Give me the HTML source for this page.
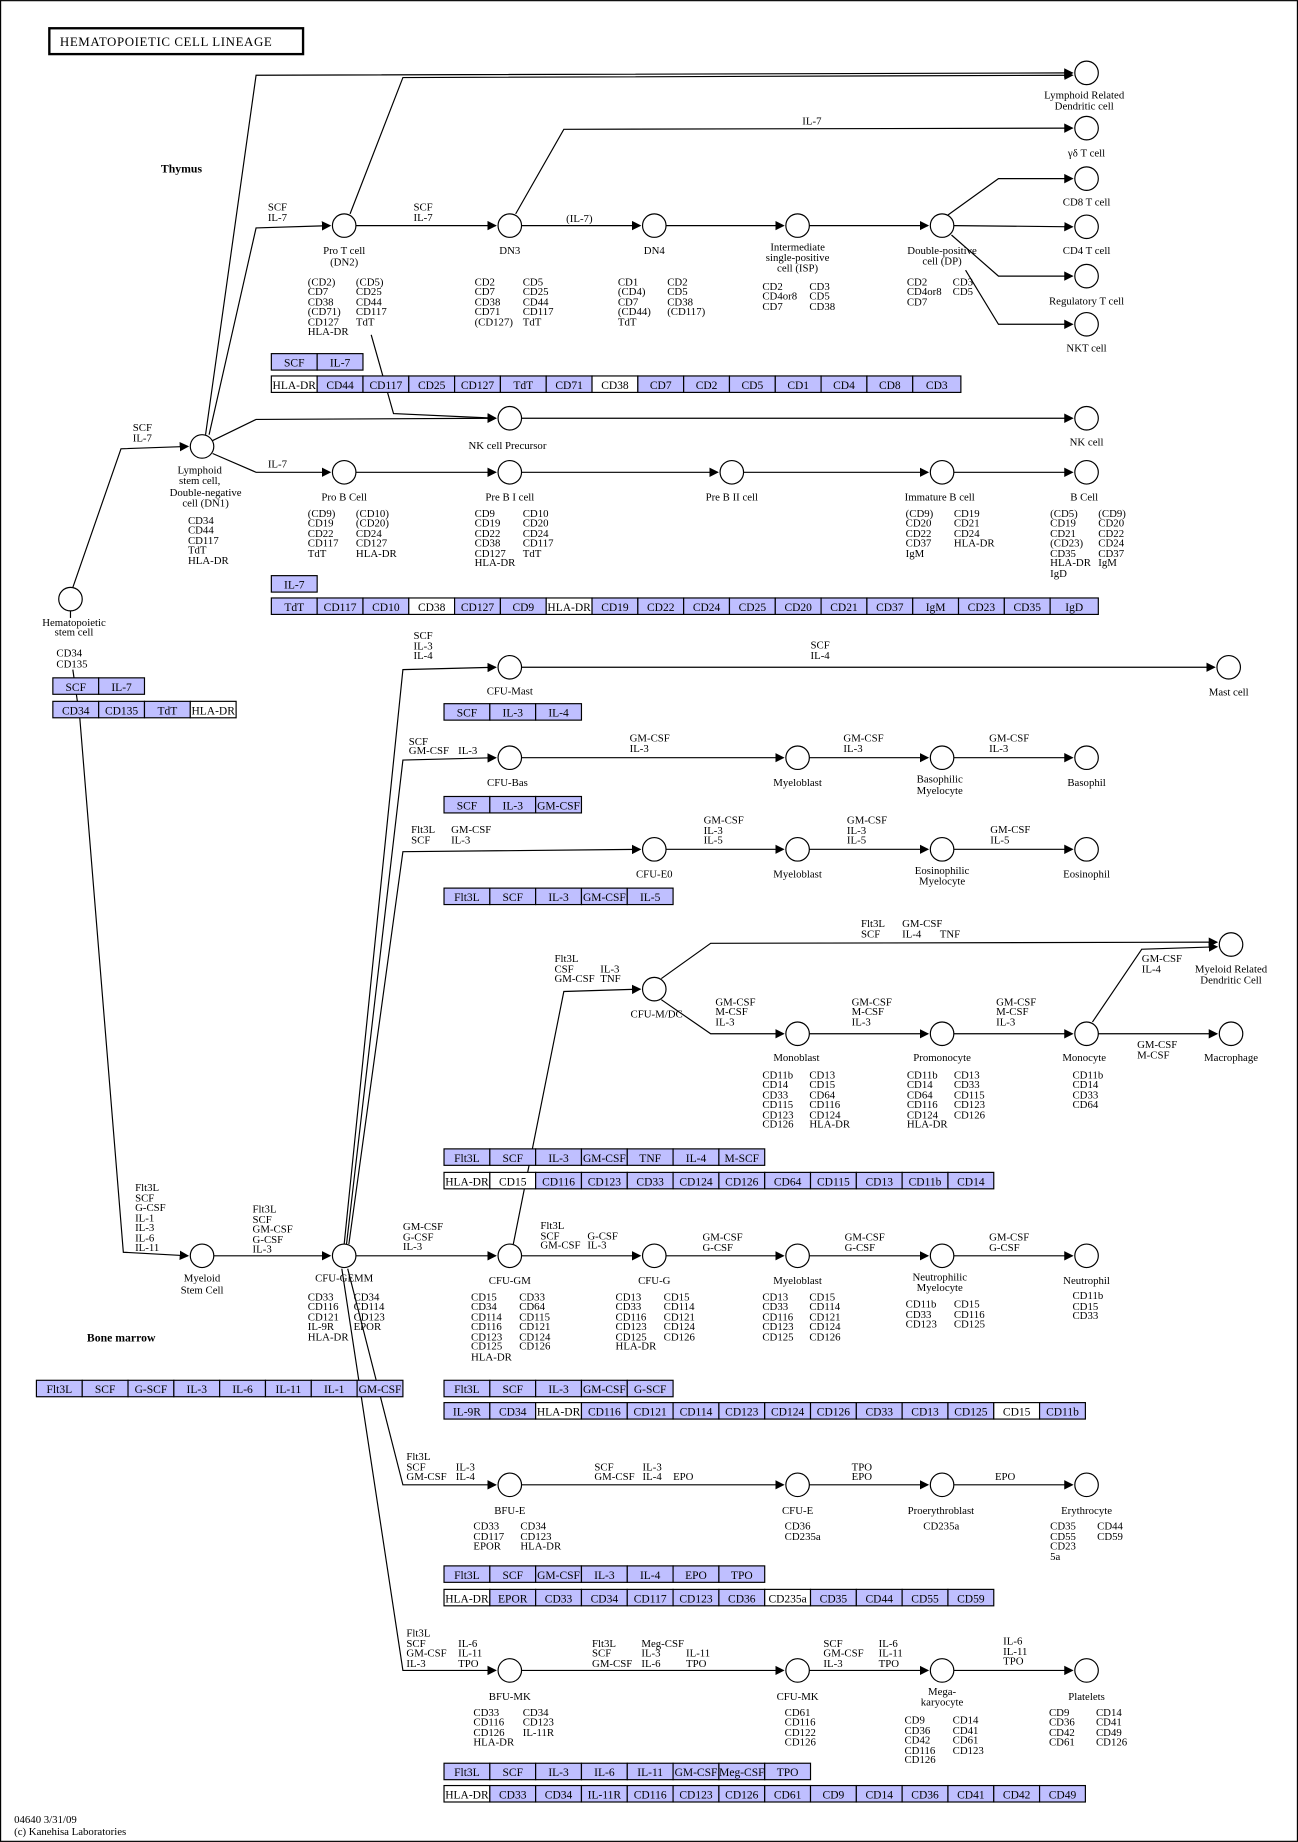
<!DOCTYPE html>
<html><head><meta charset="utf-8"><style>
html,body{margin:0;padding:0;background:#fff}
svg{display:block}
text{font-family:"Liberation Serif",serif;font-size:9.2px;fill:#000}
.c{text-anchor:middle}
.b{font-weight:bold;font-size:10px}
circle{fill:#fff;stroke:#000;stroke-width:1}
path{fill:none;stroke:#000;stroke-width:1}
rect.u{fill:#bfbfff;stroke:#000;stroke-width:1}
rect.w{fill:#fff;stroke:#000;stroke-width:1}
.t text{text-anchor:middle;font-size:9.8px}
</style></head><body>
<svg width="1298" height="1842" viewBox="0 0 1105 1568" xmlns="http://www.w3.org/2000/svg">
<defs><marker id="a" markerWidth="8" markerHeight="8" refX="7" refY="4" orient="auto" markerUnits="userSpaceOnUse"><path d="M0,0 L8,4 L0,8 z" style="fill:#000;stroke:none"/></marker></defs>
<rect x="0.5" y="0.5" width="1104" height="1567" fill="none" stroke="#000"/>
<rect x="42" y="24" width="216" height="22" fill="#fff" stroke="#000" stroke-width="2"/>
<text x="51" y="39" style="font-size:11px;letter-spacing:0.5px">HEMATOPOIETIC CELL LINEAGE</text>
<text x="137" y="147" class="b">Thymus</text>
<text x="74" y="1142" class="b">Bone marrow</text>
<text x="12" y="1552">04640 3/31/09</text>
<text x="12" y="1562">(c) Kanehisa Laboratories</text>

<!-- EDGES -->
<g marker-end="url(#a)">
<path d="M62,500 L103,382 L160,380"/>
<path d="M62,570 L68,612 L105,1066 L160,1069"/>
<path d="M182,1069 L281,1069"/>
<path d="M175,370 L218,64 L913,62"/>
<path d="M178,370 L218,194 L281,192"/>
<path d="M298,182 L343,66 L913,64"/>
<path d="M303,192 L422,192"/>
<path d="M439,182 L480,110 L913,109"/>
<path d="M444,192 L545,192"/>
<path d="M567,192 L667,192"/>
<path d="M689,192 L790,192"/>
<path d="M807,183 L850,152 L913,152"/>
<path d="M812,192 L913,193"/>
<path d="M810,200 L850,235 L913,235"/>
<path d="M822,230 L850,276 L913,276"/>
<path d="M181,375 L218,357 L422,356"/>
<path d="M316,285 L335,352 L422,356"/>
<path d="M444,356 L913,356"/>
<path d="M181,386 L218,402 L281,402"/>
<path d="M303,402 L422,402"/>
<path d="M444,402 L611,402"/>
<path d="M633,402 L790,402"/>
<path d="M812,402 L913,402"/>
<path d="M293,1059 L343,570 L422,568"/>
<path d="M295,1059 L343,647 L422,645"/>
<path d="M297,1059 L343,725 L545,723"/>
<path d="M444,568 L1034,568"/>
<path d="M444,645 L667,645"/>
<path d="M689,645 L790,645"/>
<path d="M812,645 L913,645"/>
<path d="M567,723 L667,723"/>
<path d="M689,723 L790,723"/>
<path d="M812,723 L913,723"/>
<path d="M303,1069 L422,1069"/>
<path d="M437,1059 L480,844 L545,842"/>
<path d="M563,833 L605,803 L1036,802"/>
<path d="M563,851 L605,880 L667,880"/>
<path d="M689,880 L790,880"/>
<path d="M812,880 L913,880"/>
<path d="M930,870 L972,808 L1036,806"/>
<path d="M935,880 L1036,880"/>
<path d="M444,1069 L545,1069"/>
<path d="M567,1069 L667,1069"/>
<path d="M689,1069 L790,1069"/>
<path d="M812,1069 L913,1069"/>
<path d="M296,1080 L343,1264 L422,1264"/>
<path d="M291,1080 L343,1422 L422,1422"/>
<path d="M444,1264 L667,1264"/>
<path d="M689,1264 L790,1264"/>
<path d="M812,1264 L913,1264"/>
<path d="M444,1422 L667,1422"/>
<path d="M689,1422 L790,1422"/>
<path d="M812,1422 L913,1422"/>
</g>
<path d="M60,520 L60,526"/>

<!-- NODES -->
<g>
<circle cx="60" cy="510" r="10"/><circle cx="172" cy="380" r="10"/>
<circle cx="293" cy="192" r="10"/><circle cx="434" cy="192" r="10"/><circle cx="557" cy="192" r="10"/><circle cx="679" cy="192" r="10"/><circle cx="802" cy="192" r="10"/>
<circle cx="925" cy="62" r="10"/><circle cx="925" cy="109" r="10"/><circle cx="925" cy="152" r="10"/><circle cx="925" cy="193" r="10"/><circle cx="925" cy="235" r="10"/><circle cx="925" cy="276" r="10"/>
<circle cx="434" cy="356" r="10"/><circle cx="925" cy="356" r="10"/>
<circle cx="293" cy="402" r="10"/><circle cx="434" cy="402" r="10"/><circle cx="623" cy="402" r="10"/><circle cx="802" cy="402" r="10"/><circle cx="925" cy="402" r="10"/>
<circle cx="434" cy="568" r="10"/><circle cx="1046" cy="568" r="10"/>
<circle cx="434" cy="645" r="10"/><circle cx="679" cy="645" r="10"/><circle cx="802" cy="645" r="10"/><circle cx="925" cy="645" r="10"/>
<circle cx="557" cy="723" r="10"/><circle cx="679" cy="723" r="10"/><circle cx="802" cy="723" r="10"/><circle cx="925" cy="723" r="10"/>
<circle cx="557" cy="842" r="10"/><circle cx="1048" cy="804" r="10"/><circle cx="679" cy="880" r="10"/><circle cx="802" cy="880" r="10"/><circle cx="925" cy="880" r="10"/><circle cx="1048" cy="880" r="10"/>
<circle cx="172" cy="1069" r="10"/><circle cx="293" cy="1069" r="10"/><circle cx="434" cy="1069" r="10"/><circle cx="557" cy="1069" r="10"/><circle cx="679" cy="1069" r="10"/><circle cx="802" cy="1069" r="10"/><circle cx="925" cy="1069" r="10"/>
<circle cx="434" cy="1264" r="10"/><circle cx="679" cy="1264" r="10"/><circle cx="802" cy="1264" r="10"/><circle cx="925" cy="1264" r="10"/>
<circle cx="434" cy="1422" r="10"/><circle cx="679" cy="1422" r="10"/><circle cx="802" cy="1422" r="10"/><circle cx="925" cy="1422" r="10"/>
</g>

<!-- NODE LABELS -->
<g class="c">
<text class="c" x="63" y="533">Hematopoietic</text><text class="c" x="63" y="541">stem cell</text>
<text class="c" x="170" y="403">Lymphoid</text><text class="c" x="170" y="412">stem cell,</text><text class="c" x="175" y="422">Double-negative</text><text class="c" x="175" y="431">cell (DN1)</text>
<text class="c" x="293" y="216">Pro T cell</text><text class="c" x="293" y="226">(DN2)</text>
<text class="c" x="434" y="216">DN3</text><text class="c" x="557" y="216">DN4</text>
<text class="c" x="679" y="213">Intermediate</text><text class="c" x="679" y="222">single-positive</text><text class="c" x="679" y="231">cell (ISP)</text>
<text class="c" x="802" y="216">Double-positive</text><text class="c" x="802" y="225">cell (DP)</text>
<text class="c" x="923" y="84">Lymphoid Related</text><text class="c" x="923" y="93">Dendritic cell</text>
<text class="c" x="925" y="133">γδ T cell</text><text class="c" x="925" y="175">CD8 T cell</text><text class="c" x="925" y="216">CD4 T cell</text>
<text class="c" x="925" y="259">Regulatory T cell</text><text class="c" x="925" y="299">NKT cell</text>
<text class="c" x="432" y="382">NK cell Precursor</text><text class="c" x="925" y="379">NK cell</text>
<text class="c" x="293" y="426">Pro B Cell</text><text class="c" x="434" y="426">Pre B I cell</text><text class="c" x="623" y="426">Pre B II cell</text><text class="c" x="800" y="426">Immature B cell</text><text class="c" x="923" y="426">B Cell</text>
<text class="c" x="434" y="591">CFU-Mast</text><text class="c" x="1046" y="592">Mast cell</text>
<text class="c" x="432" y="669">CFU-Bas</text><text class="c" x="679" y="669">Myeloblast</text><text class="c" x="800" y="666">Basophilic</text><text class="c" x="800" y="676">Myelocyte</text><text class="c" x="925" y="669">Basophil</text>
<text class="c" x="557" y="747">CFU-E0</text><text class="c" x="679" y="747">Myeloblast</text><text class="c" x="802" y="744">Eosinophilic</text><text class="c" x="802" y="753">Myelocyte</text><text class="c" x="925" y="747">Eosinophil</text>
<text class="c" x="559" y="866">CFU-M/DC</text><text class="c" x="1048" y="828">Myeloid Related</text><text class="c" x="1048" y="837">Dendritic Cell</text>
<text class="c" x="678" y="903">Monoblast</text><text class="c" x="802" y="903">Promonocyte</text><text class="c" x="923" y="903">Monocyte</text><text class="c" x="1048" y="903">Macrophage</text>
<text class="c" x="172" y="1091">Myeloid</text><text class="c" x="172" y="1101">Stem Cell</text>
<text class="c" x="293" y="1091">CFU-GEMM</text><text class="c" x="434" y="1093">CFU-GM</text><text class="c" x="557" y="1093">CFU-G</text><text class="c" x="679" y="1093">Myeloblast</text>
<text class="c" x="800" y="1090">Neutrophilic</text><text class="c" x="800" y="1099">Myelocyte</text><text class="c" x="925" y="1093">Neutrophil</text>
<text class="c" x="434" y="1289">BFU-E</text><text class="c" x="679" y="1289">CFU-E</text><text class="c" x="801" y="1289">Proerythroblast</text><text class="c" x="925" y="1289">Erythrocyte</text>
<text class="c" x="434" y="1447">BFU-MK</text><text class="c" x="679" y="1447">CFU-MK</text><text class="c" x="802" y="1443">Mega-</text><text class="c" x="802" y="1452">karyocyte</text><text class="c" x="925" y="1447">Platelets</text>
</g>

<!-- EDGE LABELS -->
<g>
<text x="113" y="367">SCF</text><text x="113" y="376">IL-7</text>
<text x="228" y="179">SCF</text><text x="228" y="188">IL-7</text>
<text x="352" y="179">SCF</text><text x="352" y="188">IL-7</text>
<text x="482" y="189">(IL-7)</text>
<text x="683" y="106">IL-7</text>
<text x="228" y="398">IL-7</text>
<text x="115" y="1014">Flt3L</text><text x="115" y="1023">SCF</text><text x="115" y="1031">G-CSF</text><text x="115" y="1040">IL-1</text><text x="115" y="1048">IL-3</text><text x="115" y="1057">IL-6</text><text x="115" y="1065">IL-11</text>
<text x="215" y="1032">Flt3L</text><text x="215" y="1041">SCF</text><text x="215" y="1049">GM-CSF</text><text x="215" y="1058">G-CSF</text><text x="215" y="1066">IL-3</text>
<text x="343" y="1047">GM-CSF</text><text x="343" y="1056">G-CSF</text><text x="343" y="1064">IL-3</text>
<text x="352" y="544">SCF</text><text x="352" y="553">IL-3</text><text x="352" y="561">IL-4</text>
<text x="690" y="552">SCF</text><text x="690" y="561">IL-4</text>
<text x="348" y="634">SCF</text><text x="348" y="642">GM-CSF</text><text x="390" y="642">IL-3</text>
<text x="536" y="631">GM-CSF</text><text x="536" y="640">IL-3</text>
<text x="718" y="631">GM-CSF</text><text x="718" y="640">IL-3</text>
<text x="842" y="631">GM-CSF</text><text x="842" y="640">IL-3</text>
<text x="350" y="709">Flt3L</text><text x="350" y="718">SCF</text><text x="384" y="709">GM-CSF</text><text x="384" y="718">IL-3</text>
<text x="599" y="701">GM-CSF</text><text x="599" y="710">IL-3</text><text x="599" y="718">IL-5</text>
<text x="721" y="701">GM-CSF</text><text x="721" y="710">IL-3</text><text x="721" y="718">IL-5</text>
<text x="843" y="709">GM-CSF</text><text x="843" y="718">IL-5</text>
<text x="472" y="819">Flt3L</text><text x="472" y="828">CSF</text><text x="472" y="836">GM-CSF</text><text x="511" y="828">IL-3</text><text x="511" y="836">TNF</text>
<text x="733" y="789">Flt3L</text><text x="733" y="798">SCF</text><text x="768" y="789">GM-CSF</text><text x="768" y="798">IL-4</text><text x="800" y="798">TNF</text>
<text x="609" y="856">GM-CSF</text><text x="609" y="864">M-CSF</text><text x="609" y="873">IL-3</text>
<text x="725" y="856">GM-CSF</text><text x="725" y="864">M-CSF</text><text x="725" y="873">IL-3</text>
<text x="848" y="856">GM-CSF</text><text x="848" y="864">M-CSF</text><text x="848" y="873">IL-3</text>
<text x="972" y="819">GM-CSF</text><text x="972" y="828">IL-4</text>
<text x="968" y="892">GM-CSF</text><text x="968" y="901">M-CSF</text>
<text x="460" y="1046">Flt3L</text><text x="460" y="1055">SCF</text><text x="460" y="1063">GM-CSF</text><text x="500" y="1055">G-CSF</text><text x="500" y="1063">IL-3</text>
<text x="598" y="1056">GM-CSF</text><text x="598" y="1065">G-CSF</text>
<text x="719" y="1056">GM-CSF</text><text x="719" y="1065">G-CSF</text>
<text x="842" y="1056">GM-CSF</text><text x="842" y="1065">G-CSF</text>
<text x="346" y="1243">Flt3L</text><text x="346" y="1252">SCF</text><text x="346" y="1260">GM-CSF</text><text x="388" y="1252">IL-3</text><text x="388" y="1260">IL-4</text>
<text x="506" y="1252">SCF</text><text x="506" y="1260">GM-CSF</text><text x="547" y="1252">IL-3</text><text x="547" y="1260">IL-4</text><text x="573" y="1260">EPO</text>
<text x="725" y="1252">TPO</text><text x="725" y="1260">EPO</text>
<text x="847" y="1260">EPO</text>
<text x="346" y="1393">Flt3L</text><text x="346" y="1402">SCF</text><text x="346" y="1410">GM-CSF</text><text x="346" y="1419">IL-3</text>
<text x="390" y="1402">IL-6</text><text x="390" y="1410">IL-11</text><text x="390" y="1419">TPO</text>
<text x="504" y="1402">Flt3L</text><text x="504" y="1410">SCF</text><text x="504" y="1419">GM-CSF</text>
<text x="546" y="1402">Meg-CSF</text><text x="546" y="1410">IL-3</text><text x="546" y="1419">IL-6</text><text x="584" y="1410">IL-11</text><text x="584" y="1419">TPO</text>
<text x="701" y="1402">SCF</text><text x="701" y="1410">GM-CSF</text><text x="701" y="1419">IL-3</text>
<text x="748" y="1402">IL-6</text><text x="748" y="1410">IL-11</text><text x="748" y="1419">TPO</text>
<text x="854" y="1400">IL-6</text><text x="854" y="1409">IL-11</text><text x="854" y="1417">TPO</text>
</g>

<!-- MARKERS -->
<g>
<text x="48" y="559">CD34</text><text x="48" y="568">CD135</text>
<text x="160" y="446">CD34</text><text x="160" y="454">CD44</text><text x="160" y="463">CD117</text><text x="160" y="471">TdT</text><text x="160" y="480">HLA-DR</text>
<text x="262" y="243">(CD2)</text><text x="262" y="251">CD7</text><text x="262" y="260">CD38</text><text x="262" y="268">(CD71)</text><text x="262" y="277">CD127</text><text x="262" y="285">HLA-DR</text>
<text x="303" y="243">(CD5)</text><text x="303" y="251">CD25</text><text x="303" y="260">CD44</text><text x="303" y="268">CD117</text><text x="303" y="277">TdT</text>
<text x="404" y="243">CD2</text><text x="404" y="251">CD7</text><text x="404" y="260">CD38</text><text x="404" y="268">CD71</text><text x="404" y="277">(CD127)</text>
<text x="445" y="243">CD5</text><text x="445" y="251">CD25</text><text x="445" y="260">CD44</text><text x="445" y="268">CD117</text><text x="445" y="277">TdT</text>
<text x="526" y="243">CD1</text><text x="526" y="251">(CD4)</text><text x="526" y="260">CD7</text><text x="526" y="268">(CD44)</text><text x="526" y="277">TdT</text>
<text x="568" y="243">CD2</text><text x="568" y="251">CD5</text><text x="568" y="260">CD38</text><text x="568" y="268">(CD117)</text>
<text x="649" y="247">CD2</text><text x="649" y="255">CD4or8</text><text x="649" y="264">CD7</text>
<text x="689" y="247">CD3</text><text x="689" y="255">CD5</text><text x="689" y="264">CD38</text>
<text x="772" y="243">CD2</text><text x="772" y="251">CD4or8</text><text x="772" y="260">CD7</text>
<text x="811" y="243">CD3</text><text x="811" y="251">CD5</text>
<text x="262" y="440">(CD9)</text><text x="262" y="448">CD19</text><text x="262" y="457">CD22</text><text x="262" y="465">CD117</text><text x="262" y="474">TdT</text>
<text x="303" y="440">(CD10)</text><text x="303" y="448">(CD20)</text><text x="303" y="457">CD24</text><text x="303" y="465">CD127</text><text x="303" y="474">HLA-DR</text>
<text x="404" y="440">CD9</text><text x="404" y="448">CD19</text><text x="404" y="457">CD22</text><text x="404" y="465">CD38</text><text x="404" y="474">CD127</text><text x="404" y="482">HLA-DR</text>
<text x="445" y="440">CD10</text><text x="445" y="448">CD20</text><text x="445" y="457">CD24</text><text x="445" y="465">CD117</text><text x="445" y="474">TdT</text>
<text x="771" y="440">(CD9)</text><text x="771" y="448">CD20</text><text x="771" y="457">CD22</text><text x="771" y="465">CD37</text><text x="771" y="474">IgM</text>
<text x="812" y="440">CD19</text><text x="812" y="448">CD21</text><text x="812" y="457">CD24</text><text x="812" y="465">HLA-DR</text>
<text x="894" y="440">(CD5)</text><text x="894" y="448">CD19</text><text x="894" y="457">CD21</text><text x="894" y="465">(CD23)</text><text x="894" y="474">CD35</text><text x="894" y="482">HLA-DR</text><text x="894" y="491">IgD</text>
<text x="935" y="440">(CD9)</text><text x="935" y="448">CD20</text><text x="935" y="457">CD22</text><text x="935" y="465">CD24</text><text x="935" y="474">CD37</text><text x="935" y="482">IgM</text>
<text x="649" y="918">CD11b</text><text x="649" y="926">CD14</text><text x="649" y="935">CD33</text><text x="649" y="943">CD115</text><text x="649" y="952">CD123</text><text x="649" y="960">CD126</text>
<text x="689" y="918">CD13</text><text x="689" y="926">CD15</text><text x="689" y="935">CD64</text><text x="689" y="943">CD116</text><text x="689" y="952">CD124</text><text x="689" y="960">HLA-DR</text>
<text x="772" y="918">CD11b</text><text x="772" y="926">CD14</text><text x="772" y="935">CD64</text><text x="772" y="943">CD116</text><text x="772" y="952">CD124</text><text x="772" y="960">HLA-DR</text>
<text x="812" y="918">CD13</text><text x="812" y="926">CD33</text><text x="812" y="935">CD115</text><text x="812" y="943">CD123</text><text x="812" y="952">CD126</text>
<text x="913" y="918">CD11b</text><text x="913" y="926">CD14</text><text x="913" y="935">CD33</text><text x="913" y="943">CD64</text>
<text x="262" y="1107">CD33</text><text x="262" y="1115">CD116</text><text x="262" y="1124">CD121</text><text x="262" y="1132">IL-9R</text><text x="262" y="1141">HLA-DR</text>
<text x="301" y="1107">CD34</text><text x="301" y="1115">CD114</text><text x="301" y="1124">CD123</text><text x="301" y="1132">EPOR</text>
<text x="401" y="1107">CD15</text><text x="401" y="1115">CD34</text><text x="401" y="1124">CD114</text><text x="401" y="1132">CD116</text><text x="401" y="1141">CD123</text><text x="401" y="1149">CD125</text><text x="401" y="1158">HLA-DR</text>
<text x="442" y="1107">CD33</text><text x="442" y="1115">CD64</text><text x="442" y="1124">CD115</text><text x="442" y="1132">CD121</text><text x="442" y="1141">CD124</text><text x="442" y="1149">CD126</text>
<text x="524" y="1107">CD13</text><text x="524" y="1115">CD33</text><text x="524" y="1124">CD116</text><text x="524" y="1132">CD123</text><text x="524" y="1141">CD125</text><text x="524" y="1149">HLA-DR</text>
<text x="565" y="1107">CD15</text><text x="565" y="1115">CD114</text><text x="565" y="1124">CD121</text><text x="565" y="1132">CD124</text><text x="565" y="1141">CD126</text>
<text x="649" y="1107">CD13</text><text x="649" y="1115">CD33</text><text x="649" y="1124">CD116</text><text x="649" y="1132">CD123</text><text x="649" y="1141">CD125</text>
<text x="689" y="1107">CD15</text><text x="689" y="1115">CD114</text><text x="689" y="1124">CD121</text><text x="689" y="1132">CD124</text><text x="689" y="1141">CD126</text>
<text x="771" y="1113">CD11b</text><text x="771" y="1122">CD33</text><text x="771" y="1130">CD123</text>
<text x="812" y="1113">CD15</text><text x="812" y="1122">CD116</text><text x="812" y="1130">CD125</text>
<text x="913" y="1106">CD11b</text><text x="913" y="1115">CD15</text><text x="913" y="1123">CD33</text>
<text x="403" y="1302">CD33</text><text x="403" y="1311">CD117</text><text x="403" y="1319">EPOR</text>
<text x="443" y="1302">CD34</text><text x="443" y="1311">CD123</text><text x="443" y="1319">HLA-DR</text>
<text x="668" y="1302">CD36</text><text x="668" y="1311">CD235a</text>
<text x="786" y="1302">CD235a</text>
<text x="894" y="1302">CD35</text><text x="894" y="1311">CD55</text><text x="894" y="1319">CD23</text><text x="894" y="1328">5a</text>
<text x="934" y="1302">CD44</text><text x="934" y="1311">CD59</text>
<text x="403" y="1461">CD33</text><text x="403" y="1469">CD116</text><text x="403" y="1478">CD126</text><text x="403" y="1486">HLA-DR</text>
<text x="445" y="1461">CD34</text><text x="445" y="1469">CD123</text><text x="445" y="1478">IL-11R</text>
<text x="668" y="1461">CD61</text><text x="668" y="1469">CD116</text><text x="668" y="1478">CD122</text><text x="668" y="1486">CD126</text>
<text x="770" y="1467">CD9</text><text x="770" y="1476">CD36</text><text x="770" y="1484">CD42</text><text x="770" y="1493">CD116</text><text x="770" y="1501">CD126</text>
<text x="811" y="1467">CD14</text><text x="811" y="1476">CD41</text><text x="811" y="1484">CD61</text><text x="811" y="1493">CD123</text>
<text x="893" y="1461">CD9</text><text x="893" y="1469">CD36</text><text x="893" y="1478">CD42</text><text x="893" y="1486">CD61</text>
<text x="933" y="1461">CD14</text><text x="933" y="1469">CD41</text><text x="933" y="1478">CD49</text><text x="933" y="1486">CD126</text>
</g>

<!-- BOX ROWS -->
<g class="t">
<rect class="u" x="231" y="301" width="39" height="14"/><text x="250.5" y="312">SCF</text>
<rect class="u" x="270" y="301" width="39" height="14"/><text x="289.5" y="312">IL-7</text>
<rect class="w" x="231" y="320" width="39" height="14"/><text x="250.5" y="331">HLA-DR</text>
<rect class="u" x="270" y="320" width="39" height="14"/><text x="289.5" y="331">CD44</text>
<rect class="u" x="309" y="320" width="39" height="14"/><text x="328.5" y="331">CD117</text>
<rect class="u" x="348" y="320" width="39" height="14"/><text x="367.5" y="331">CD25</text>
<rect class="u" x="387" y="320" width="39" height="14"/><text x="406.5" y="331">CD127</text>
<rect class="u" x="426" y="320" width="39" height="14"/><text x="445.5" y="331">TdT</text>
<rect class="u" x="465" y="320" width="39" height="14"/><text x="484.5" y="331">CD71</text>
<rect class="w" x="504" y="320" width="39" height="14"/><text x="523.5" y="331">CD38</text>
<rect class="u" x="543" y="320" width="39" height="14"/><text x="562.5" y="331">CD7</text>
<rect class="u" x="582" y="320" width="39" height="14"/><text x="601.5" y="331">CD2</text>
<rect class="u" x="621" y="320" width="39" height="14"/><text x="640.5" y="331">CD5</text>
<rect class="u" x="660" y="320" width="39" height="14"/><text x="679.5" y="331">CD1</text>
<rect class="u" x="699" y="320" width="39" height="14"/><text x="718.5" y="331">CD4</text>
<rect class="u" x="738" y="320" width="39" height="14"/><text x="757.5" y="331">CD8</text>
<rect class="u" x="777" y="320" width="41" height="14"/><text x="797.5" y="331">CD3</text>
<rect class="u" x="231" y="490" width="39" height="14"/><text x="250.5" y="501">IL-7</text>
<rect class="u" x="231" y="509" width="39" height="14"/><text x="250.5" y="520">TdT</text>
<rect class="u" x="270" y="509" width="39" height="14"/><text x="289.5" y="520">CD117</text>
<rect class="u" x="309" y="509" width="39" height="14"/><text x="328.5" y="520">CD10</text>
<rect class="w" x="348" y="509" width="39" height="14"/><text x="367.5" y="520">CD38</text>
<rect class="u" x="387" y="509" width="39" height="14"/><text x="406.5" y="520">CD127</text>
<rect class="u" x="426" y="509" width="39" height="14"/><text x="445.5" y="520">CD9</text>
<rect class="w" x="465" y="509" width="39" height="14"/><text x="484.5" y="520">HLA-DR</text>
<rect class="u" x="504" y="509" width="39" height="14"/><text x="523.5" y="520">CD19</text>
<rect class="u" x="543" y="509" width="39" height="14"/><text x="562.5" y="520">CD22</text>
<rect class="u" x="582" y="509" width="39" height="14"/><text x="601.5" y="520">CD24</text>
<rect class="u" x="621" y="509" width="39" height="14"/><text x="640.5" y="520">CD25</text>
<rect class="u" x="660" y="509" width="39" height="14"/><text x="679.5" y="520">CD20</text>
<rect class="u" x="699" y="509" width="39" height="14"/><text x="718.5" y="520">CD21</text>
<rect class="u" x="738" y="509" width="39" height="14"/><text x="757.5" y="520">CD37</text>
<rect class="u" x="777" y="509" width="39" height="14"/><text x="796.5" y="520">IgM</text>
<rect class="u" x="816" y="509" width="39" height="14"/><text x="835.5" y="520">CD23</text>
<rect class="u" x="855" y="509" width="39" height="14"/><text x="874.5" y="520">CD35</text>
<rect class="u" x="894" y="509" width="41" height="14"/><text x="914.5" y="520">IgD</text>
<rect class="u" x="45" y="577" width="39" height="14"/><text x="64.5" y="588">SCF</text>
<rect class="u" x="84" y="577" width="39" height="14"/><text x="103.5" y="588">IL-7</text>
<rect class="u" x="45" y="597" width="39" height="14"/><text x="64.5" y="608">CD34</text>
<rect class="u" x="84" y="597" width="39" height="14"/><text x="103.5" y="608">CD135</text>
<rect class="u" x="123" y="597" width="39" height="14"/><text x="142.5" y="608">TdT</text>
<rect class="w" x="162" y="597" width="39" height="14"/><text x="181.5" y="608">HLA-DR</text>
<rect class="u" x="378" y="599" width="39" height="14"/><text x="397.5" y="610">SCF</text>
<rect class="u" x="417" y="599" width="39" height="14"/><text x="436.5" y="610">IL-3</text>
<rect class="u" x="456" y="599" width="39" height="14"/><text x="475.5" y="610">IL-4</text>
<rect class="u" x="378" y="678" width="39" height="14"/><text x="397.5" y="689">SCF</text>
<rect class="u" x="417" y="678" width="39" height="14"/><text x="436.5" y="689">IL-3</text>
<rect class="u" x="456" y="678" width="39" height="14"/><text x="475.5" y="689">GM-CSF</text>
<rect class="u" x="378" y="756" width="39" height="14"/><text x="397.5" y="767">Flt3L</text>
<rect class="u" x="417" y="756" width="39" height="14"/><text x="436.5" y="767">SCF</text>
<rect class="u" x="456" y="756" width="39" height="14"/><text x="475.5" y="767">IL-3</text>
<rect class="u" x="495" y="756" width="39" height="14"/><text x="514.5" y="767">GM-CSF</text>
<rect class="u" x="534" y="756" width="39" height="14"/><text x="553.5" y="767">IL-5</text>
<rect class="u" x="378" y="978" width="39" height="14"/><text x="397.5" y="989">Flt3L</text>
<rect class="u" x="417" y="978" width="39" height="14"/><text x="436.5" y="989">SCF</text>
<rect class="u" x="456" y="978" width="39" height="14"/><text x="475.5" y="989">IL-3</text>
<rect class="u" x="495" y="978" width="39" height="14"/><text x="514.5" y="989">GM-CSF</text>
<rect class="u" x="534" y="978" width="39" height="14"/><text x="553.5" y="989">TNF</text>
<rect class="u" x="573" y="978" width="39" height="14"/><text x="592.5" y="989">IL-4</text>
<rect class="u" x="612" y="978" width="39" height="14"/><text x="631.5" y="989">M-SCF</text>
<rect class="w" x="378" y="998" width="39" height="14"/><text x="397.5" y="1009">HLA-DR</text>
<rect class="w" x="417" y="998" width="39" height="14"/><text x="436.5" y="1009">CD15</text>
<rect class="u" x="456" y="998" width="39" height="14"/><text x="475.5" y="1009">CD116</text>
<rect class="u" x="495" y="998" width="39" height="14"/><text x="514.5" y="1009">CD123</text>
<rect class="u" x="534" y="998" width="39" height="14"/><text x="553.5" y="1009">CD33</text>
<rect class="u" x="573" y="998" width="39" height="14"/><text x="592.5" y="1009">CD124</text>
<rect class="u" x="612" y="998" width="39" height="14"/><text x="631.5" y="1009">CD126</text>
<rect class="u" x="651" y="998" width="39" height="14"/><text x="670.5" y="1009">CD64</text>
<rect class="u" x="690" y="998" width="39" height="14"/><text x="709.5" y="1009">CD115</text>
<rect class="u" x="729" y="998" width="39" height="14"/><text x="748.5" y="1009">CD13</text>
<rect class="u" x="768" y="998" width="39" height="14"/><text x="787.5" y="1009">CD11b</text>
<rect class="u" x="807" y="998" width="39" height="14"/><text x="826.5" y="1009">CD14</text>
<rect class="u" x="31" y="1175" width="39" height="14"/><text x="50.5" y="1186">Flt3L</text>
<rect class="u" x="70" y="1175" width="39" height="14"/><text x="89.5" y="1186">SCF</text>
<rect class="u" x="109" y="1175" width="39" height="14"/><text x="128.5" y="1186">G-SCF</text>
<rect class="u" x="148" y="1175" width="39" height="14"/><text x="167.5" y="1186">IL-3</text>
<rect class="u" x="187" y="1175" width="39" height="14"/><text x="206.5" y="1186">IL-6</text>
<rect class="u" x="226" y="1175" width="39" height="14"/><text x="245.5" y="1186">IL-11</text>
<rect class="u" x="265" y="1175" width="39" height="14"/><text x="284.5" y="1186">IL-1</text>
<rect class="u" x="304" y="1175" width="39" height="14"/><text x="323.5" y="1186">GM-CSF</text>
<rect class="u" x="378" y="1175" width="39" height="14"/><text x="397.5" y="1186">Flt3L</text>
<rect class="u" x="417" y="1175" width="39" height="14"/><text x="436.5" y="1186">SCF</text>
<rect class="u" x="456" y="1175" width="39" height="14"/><text x="475.5" y="1186">IL-3</text>
<rect class="u" x="495" y="1175" width="39" height="14"/><text x="514.5" y="1186">GM-CSF</text>
<rect class="u" x="534" y="1175" width="39" height="14"/><text x="553.5" y="1186">G-SCF</text>
<rect class="u" x="378" y="1194" width="39" height="14"/><text x="397.5" y="1205">IL-9R</text>
<rect class="u" x="417" y="1194" width="39" height="14"/><text x="436.5" y="1205">CD34</text>
<rect class="w" x="456" y="1194" width="39" height="14"/><text x="475.5" y="1205">HLA-DR</text>
<rect class="u" x="495" y="1194" width="39" height="14"/><text x="514.5" y="1205">CD116</text>
<rect class="u" x="534" y="1194" width="39" height="14"/><text x="553.5" y="1205">CD121</text>
<rect class="u" x="573" y="1194" width="39" height="14"/><text x="592.5" y="1205">CD114</text>
<rect class="u" x="612" y="1194" width="39" height="14"/><text x="631.5" y="1205">CD123</text>
<rect class="u" x="651" y="1194" width="39" height="14"/><text x="670.5" y="1205">CD124</text>
<rect class="u" x="690" y="1194" width="39" height="14"/><text x="709.5" y="1205">CD126</text>
<rect class="u" x="729" y="1194" width="39" height="14"/><text x="748.5" y="1205">CD33</text>
<rect class="u" x="768" y="1194" width="39" height="14"/><text x="787.5" y="1205">CD13</text>
<rect class="u" x="807" y="1194" width="39" height="14"/><text x="826.5" y="1205">CD125</text>
<rect class="w" x="846" y="1194" width="39" height="14"/><text x="865.5" y="1205">CD15</text>
<rect class="u" x="885" y="1194" width="39" height="14"/><text x="904.5" y="1205">CD11b</text>
<rect class="u" x="378" y="1333" width="39" height="14"/><text x="397.5" y="1344">Flt3L</text>
<rect class="u" x="417" y="1333" width="39" height="14"/><text x="436.5" y="1344">SCF</text>
<rect class="u" x="456" y="1333" width="39" height="14"/><text x="475.5" y="1344">GM-CSF</text>
<rect class="u" x="495" y="1333" width="39" height="14"/><text x="514.5" y="1344">IL-3</text>
<rect class="u" x="534" y="1333" width="39" height="14"/><text x="553.5" y="1344">IL-4</text>
<rect class="u" x="573" y="1333" width="39" height="14"/><text x="592.5" y="1344">EPO</text>
<rect class="u" x="612" y="1333" width="39" height="14"/><text x="631.5" y="1344">TPO</text>
<rect class="w" x="378" y="1353" width="39" height="14"/><text x="397.5" y="1364">HLA-DR</text>
<rect class="u" x="417" y="1353" width="39" height="14"/><text x="436.5" y="1364">EPOR</text>
<rect class="u" x="456" y="1353" width="39" height="14"/><text x="475.5" y="1364">CD33</text>
<rect class="u" x="495" y="1353" width="39" height="14"/><text x="514.5" y="1364">CD34</text>
<rect class="u" x="534" y="1353" width="39" height="14"/><text x="553.5" y="1364">CD117</text>
<rect class="u" x="573" y="1353" width="39" height="14"/><text x="592.5" y="1364">CD123</text>
<rect class="u" x="612" y="1353" width="39" height="14"/><text x="631.5" y="1364">CD36</text>
<rect class="w" x="651" y="1353" width="39" height="14"/><text x="670.5" y="1364">CD235a</text>
<rect class="u" x="690" y="1353" width="39" height="14"/><text x="709.5" y="1364">CD35</text>
<rect class="u" x="729" y="1353" width="39" height="14"/><text x="748.5" y="1364">CD44</text>
<rect class="u" x="768" y="1353" width="39" height="14"/><text x="787.5" y="1364">CD55</text>
<rect class="u" x="807" y="1353" width="39" height="14"/><text x="826.5" y="1364">CD59</text>
<rect class="u" x="378" y="1501" width="39" height="14"/><text x="397.5" y="1512">Flt3L</text>
<rect class="u" x="417" y="1501" width="39" height="14"/><text x="436.5" y="1512">SCF</text>
<rect class="u" x="456" y="1501" width="39" height="14"/><text x="475.5" y="1512">IL-3</text>
<rect class="u" x="495" y="1501" width="39" height="14"/><text x="514.5" y="1512">IL-6</text>
<rect class="u" x="534" y="1501" width="39" height="14"/><text x="553.5" y="1512">IL-11</text>
<rect class="u" x="573" y="1501" width="39" height="14"/><text x="592.5" y="1512">GM-CSF</text>
<rect class="u" x="612" y="1501" width="39" height="14"/><text x="631.5" y="1512">Meg-CSF</text>
<rect class="u" x="651" y="1501" width="39" height="14"/><text x="670.5" y="1512">TPO</text>
<rect class="w" x="378" y="1520" width="39" height="14"/><text x="397.5" y="1531">HLA-DR</text>
<rect class="u" x="417" y="1520" width="39" height="14"/><text x="436.5" y="1531">CD33</text>
<rect class="u" x="456" y="1520" width="39" height="14"/><text x="475.5" y="1531">CD34</text>
<rect class="u" x="495" y="1520" width="39" height="14"/><text x="514.5" y="1531">IL-11R</text>
<rect class="u" x="534" y="1520" width="39" height="14"/><text x="553.5" y="1531">CD116</text>
<rect class="u" x="573" y="1520" width="39" height="14"/><text x="592.5" y="1531">CD123</text>
<rect class="u" x="612" y="1520" width="39" height="14"/><text x="631.5" y="1531">CD126</text>
<rect class="u" x="651" y="1520" width="39" height="14"/><text x="670.5" y="1531">CD61</text>
<rect class="u" x="690" y="1520" width="39" height="14"/><text x="709.5" y="1531">CD9</text>
<rect class="u" x="729" y="1520" width="39" height="14"/><text x="748.5" y="1531">CD14</text>
<rect class="u" x="768" y="1520" width="39" height="14"/><text x="787.5" y="1531">CD36</text>
<rect class="u" x="807" y="1520" width="39" height="14"/><text x="826.5" y="1531">CD41</text>
<rect class="u" x="846" y="1520" width="39" height="14"/><text x="865.5" y="1531">CD42</text>
<rect class="u" x="885" y="1520" width="39" height="14"/><text x="904.5" y="1531">CD49</text>
</g>
</svg>
</body></html>
